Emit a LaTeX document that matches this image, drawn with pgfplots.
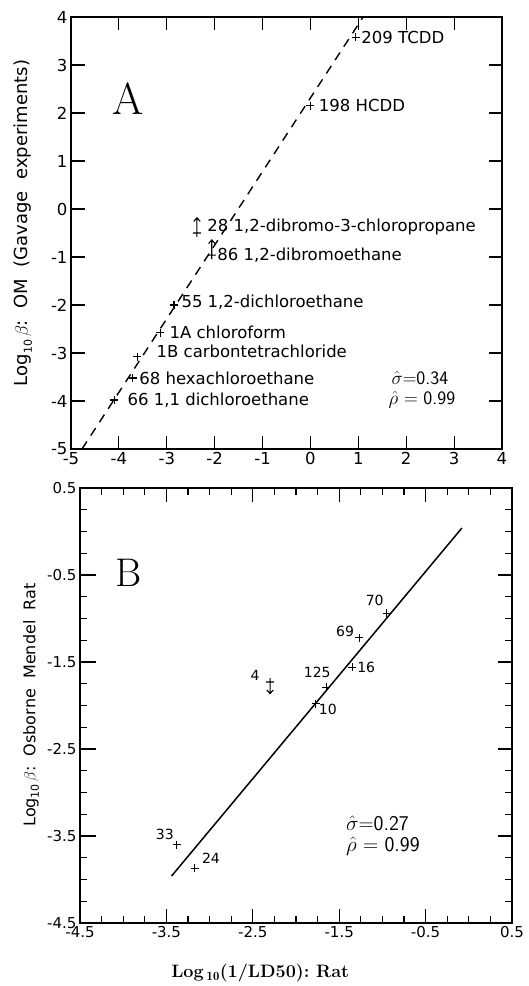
\documentclass[border=0pt]{standalone}
\usepackage{fix-cm}
\usepackage{fontspec}
\usepackage{pgfplots}
\usepackage{pgfplotstable}
\pgfplotsset{compat=1.18}
\newfontfamily\plotfont{DejaVu Sans}
\newcommand\pf[1]{\plotfont\fontsize{#1}{#1}\selectfont}
\newcommand\sub[1]{\raisebox{-0.4ex}{\pf{11}#1}}

% marks with an arrow: upper / lower limit
\pgfdeclareplotmark{uplim}{%
  \pgfpathmoveto{\pgfqpoint{-\pgfplotmarksize}{0pt}}%
  \pgfpathlineto{\pgfqpoint{\pgfplotmarksize}{0pt}}%
  \pgfpathmoveto{\pgfqpoint{0pt}{-\pgfplotmarksize}}%
  \pgfpathlineto{\pgfqpoint{0pt}{3.8\pgfplotmarksize}}%
  \pgfpathmoveto{\pgfqpoint{-0.8\pgfplotmarksize}{2.9\pgfplotmarksize}}%
  \pgfpathlineto{\pgfqpoint{0pt}{3.8\pgfplotmarksize}}%
  \pgfpathlineto{\pgfqpoint{0.8\pgfplotmarksize}{2.9\pgfplotmarksize}}%
  \pgfusepathqstroke}
\pgfdeclareplotmark{downlim}{%
  \pgfpathmoveto{\pgfqpoint{-\pgfplotmarksize}{0pt}}%
  \pgfpathlineto{\pgfqpoint{\pgfplotmarksize}{0pt}}%
  \pgfpathmoveto{\pgfqpoint{0pt}{\pgfplotmarksize}}%
  \pgfpathlineto{\pgfqpoint{0pt}{-2.9\pgfplotmarksize}}%
  \pgfpathmoveto{\pgfqpoint{-0.8\pgfplotmarksize}{-2\pgfplotmarksize}}%
  \pgfpathlineto{\pgfqpoint{0pt}{-2.9\pgfplotmarksize}}%
  \pgfpathlineto{\pgfqpoint{0.8\pgfplotmarksize}{-2\pgfplotmarksize}}%
  \pgfusepathqstroke}

\pgfplotstableread[col sep=semicolon]{
x;y;ox;oy;label
0.95;3.58;5;0;209 TCDD
0.0;2.15;8;0;198 HCDD
-2.85;-2.0;7;3;55 1,2-dichloroethane
-3.14;-2.58;9;0;1A chloroform
-3.62;-3.08;19;5;1B carbontetrachloride
-3.71;-3.52;6;0;68 hexachloroethane
-4.1;-3.98;13;0;66  1,1 dichloroethane
}\gavage

\pgfplotstableread[col sep=semicolon]{
x;y;ox;oy;label
-2.37;-0.5;10;6;28 1,2-dibromo-3-chloropropane
-2.06;-0.96;5;0;86 1,2-dibromoethane
}\gavagelim

\pgfplotstableread[col sep=semicolon]{
x;y;ox;oy;label
-0.95;-0.94;-12;13;70
-1.27;-1.22;-14;6;69
-1.35;-1.56;14;0;16
-1.65;-1.79;-9;15;125
-1.77;-1.98;12;-6;10
-3.38;-3.6;-12;10;33
-3.17;-3.87;16;10;24
}\ldfifty

\pgfplotstableread[col sep=semicolon]{
x;y;ox;oy;label
-2.30;-1.73;-15;7;4
}\ldfiftylim

\pgfplotsset{
  panel/.style={
    scale only axis, anchor=south west, clip=false,
    tick align=inside,
    axis line style={line width=1.5pt},
    tick style={line width=1.2pt, black},
    ticklabel style={font=\pf{16.5}},
    label style={font=\pf{17}},
  },
  labelled/.style={
    black, only marks, mark size=4pt, line width=1.1pt,
    point meta=explicit symbolic, nodes near coords,
    visualization depends on={\thisrow{ox} \as \offx},
    visualization depends on={\thisrow{oy} \as \offy},
  },
}

\begin{document}
\begin{tikzpicture}

% panel A
\begin{axis}[panel,
  at={(71pt,537pt)}, width=431pt, height=432pt,
  xmin=-5, xmax=4, ymin=-5, ymax=4,
  xtick={-5,-4,-3,-2,-1,0,1,2,3,4}, ytick={-5,-4,-3,-2,-1,0,1,2,3,4},
  xticklabels={-5,-4,-3,-2,-1,0,1,2,3,4},
  yticklabels={-5,-4,-3,-2,-1,0,1,2,3,4},
  major tick length=13pt,
  ylabel={Log\sub{10}\,$\beta$:\ \ OM\ \ (Gavage\ \ experiments)},
  ylabel style={at={(axis description cs:-0.111,0.523)}, anchor=center, font=\pf{18}},
]
% tick marks on all four sides
\pgfplotsinvokeforeach{-4,-3,-2,-1,0,1,2,3}{
  \draw[line width=1.2pt] (axis cs:#1,-5) -- ++(0pt,13pt);
  \draw[line width=1.2pt] (axis cs:#1,4) -- ++(0pt,-13pt);
  \draw[line width=1.2pt] (axis cs:-5,#1) -- ++(14pt,0pt);
  \draw[line width=1.2pt] (axis cs:4,#1) -- ++(-11pt,0pt);
}
\addplot[black, line width=1.4pt, dash pattern=on 9pt off 7pt] coordinates {(-4.77,-5) (1.1,4)};
\addplot[labelled, mark=+,
  nodes near coords style={anchor=west, inner sep=0pt, font=\pf{16.5},
    xshift=\offx pt, yshift=\offy pt}]
  table[x=x, y=y, meta=label] {\gavage};
\addplot[labelled, mark=uplim,
  nodes near coords style={anchor=west, inner sep=0pt, font=\pf{16.5},
    xshift=\offx pt, yshift=\offy pt}]
  table[x=x, y=y, meta=label] {\gavagelim};
\node[font=\fontsize{45}{45}\selectfont] at (axis cs:-3.81,2.29) {A};
\node[anchor=west, font=\fontsize{19}{19}\selectfont] at (axis cs:1.62,-3.52) {$\hat{\sigma}{=}$\textsf{0.34}};
\node[anchor=west, font=\fontsize{19}{19}\selectfont] at (axis cs:1.56,-3.98) {$\hat{\rho}$ = \textsf{0.99}};
\end{axis}

% panel B
\begin{axis}[panel,
  at={(80pt,63pt)}, width=432pt, height=435pt,
  xmin=-4.5, xmax=0.5, ymin=-4.5, ymax=0.5,
  xtick={-4.5,-3.5,-2.5,-1.5,-0.5,0.5}, ytick={-4.5,-3.5,-2.5,-1.5,-0.5,0.5},
  xticklabels={-4.5,-3.5,-2.5,-1.5,-0.5,0.5},
  yticklabels={-4.5,-3.5,-2.5,-1.5,-0.5,0.5},
  minor tick num=3,
  major tick length=14pt, minor tick length=7pt,
  ticklabel style={font=\pf{15}},
  ylabel={Log\sub{10}\,$\beta$:\ \ Osborne\ \ Mendel\ \ Rat},
  ylabel style={at={(axis description cs:-0.113,0.501)}, anchor=center, font=\pf{16}},
  xlabel={\textbf{Log\,$_{\mathbf{10}}$(1/LD50):\ Rat}},
  xlabel style={at={(axis description cs:0.417,-0.115)}, anchor=center,
    font=\fontsize{18}{18}\selectfont},
]
% major and minor tick marks on all four sides
\pgfplotsinvokeforeach{-3.5,-2.5,-1.5,-0.5}{
  \draw[line width=1.2pt] (axis cs:#1,-4.5) -- ++(0pt,14pt);
  \draw[line width=1.2pt] (axis cs:#1,0.5) -- ++(0pt,-14pt);
  \draw[line width=1.2pt] (axis cs:-4.5,#1) -- ++(16pt,0pt);
  \draw[line width=1.2pt] (axis cs:0.5,#1) -- ++(-12pt,0pt);
}
\pgfplotsinvokeforeach{-4.25,-4,-3.75,-3.25,-3,-2.75,-2.25,-2,-1.75,-1.25,-1,-0.75,-0.25,0,0.25}{
  \draw[line width=1.1pt] (axis cs:#1,-4.5) -- ++(0pt,7pt);
  \draw[line width=1.1pt] (axis cs:#1,0.5) -- ++(0pt,-7pt);
  \draw[line width=1.1pt] (axis cs:-4.5,#1) -- ++(7pt,0pt);
  \draw[line width=1.1pt] (axis cs:0.5,#1) -- ++(-5pt,0pt);
}
\addplot[black, line width=1.5pt] coordinates {(-3.44,-3.96) (-0.08,0.04)};
\addplot[labelled, mark=+,
  nodes near coords style={anchor=center, inner sep=0pt, font=\pf{14},
    xshift=\offx pt, yshift=\offy pt}]
  table[x=x, y=y, meta=label] {\ldfifty};
\addplot[labelled, mark=downlim,
  nodes near coords style={anchor=center, inner sep=0pt, font=\pf{14},
    xshift=\offx pt, yshift=\offy pt}]
  table[x=x, y=y, meta=label] {\ldfiftylim};
\node[font=\fontsize{40}{40}\selectfont] at (axis cs:-3.94,-0.48) {B};
\node[anchor=west, font=\fontsize{21}{21}\selectfont] at (axis cs:-1.46,-3.35) {$\hat{\sigma}{=}$\textsf{0.27}};
\node[anchor=west, font=\fontsize{21}{21}\selectfont] at (axis cs:-1.46,-3.62) {$\hat{\rho}$ = \textsf{0.99}};
\end{axis}

\path (0,0) rectangle (528pt,986pt);
\end{tikzpicture}
\end{document}
